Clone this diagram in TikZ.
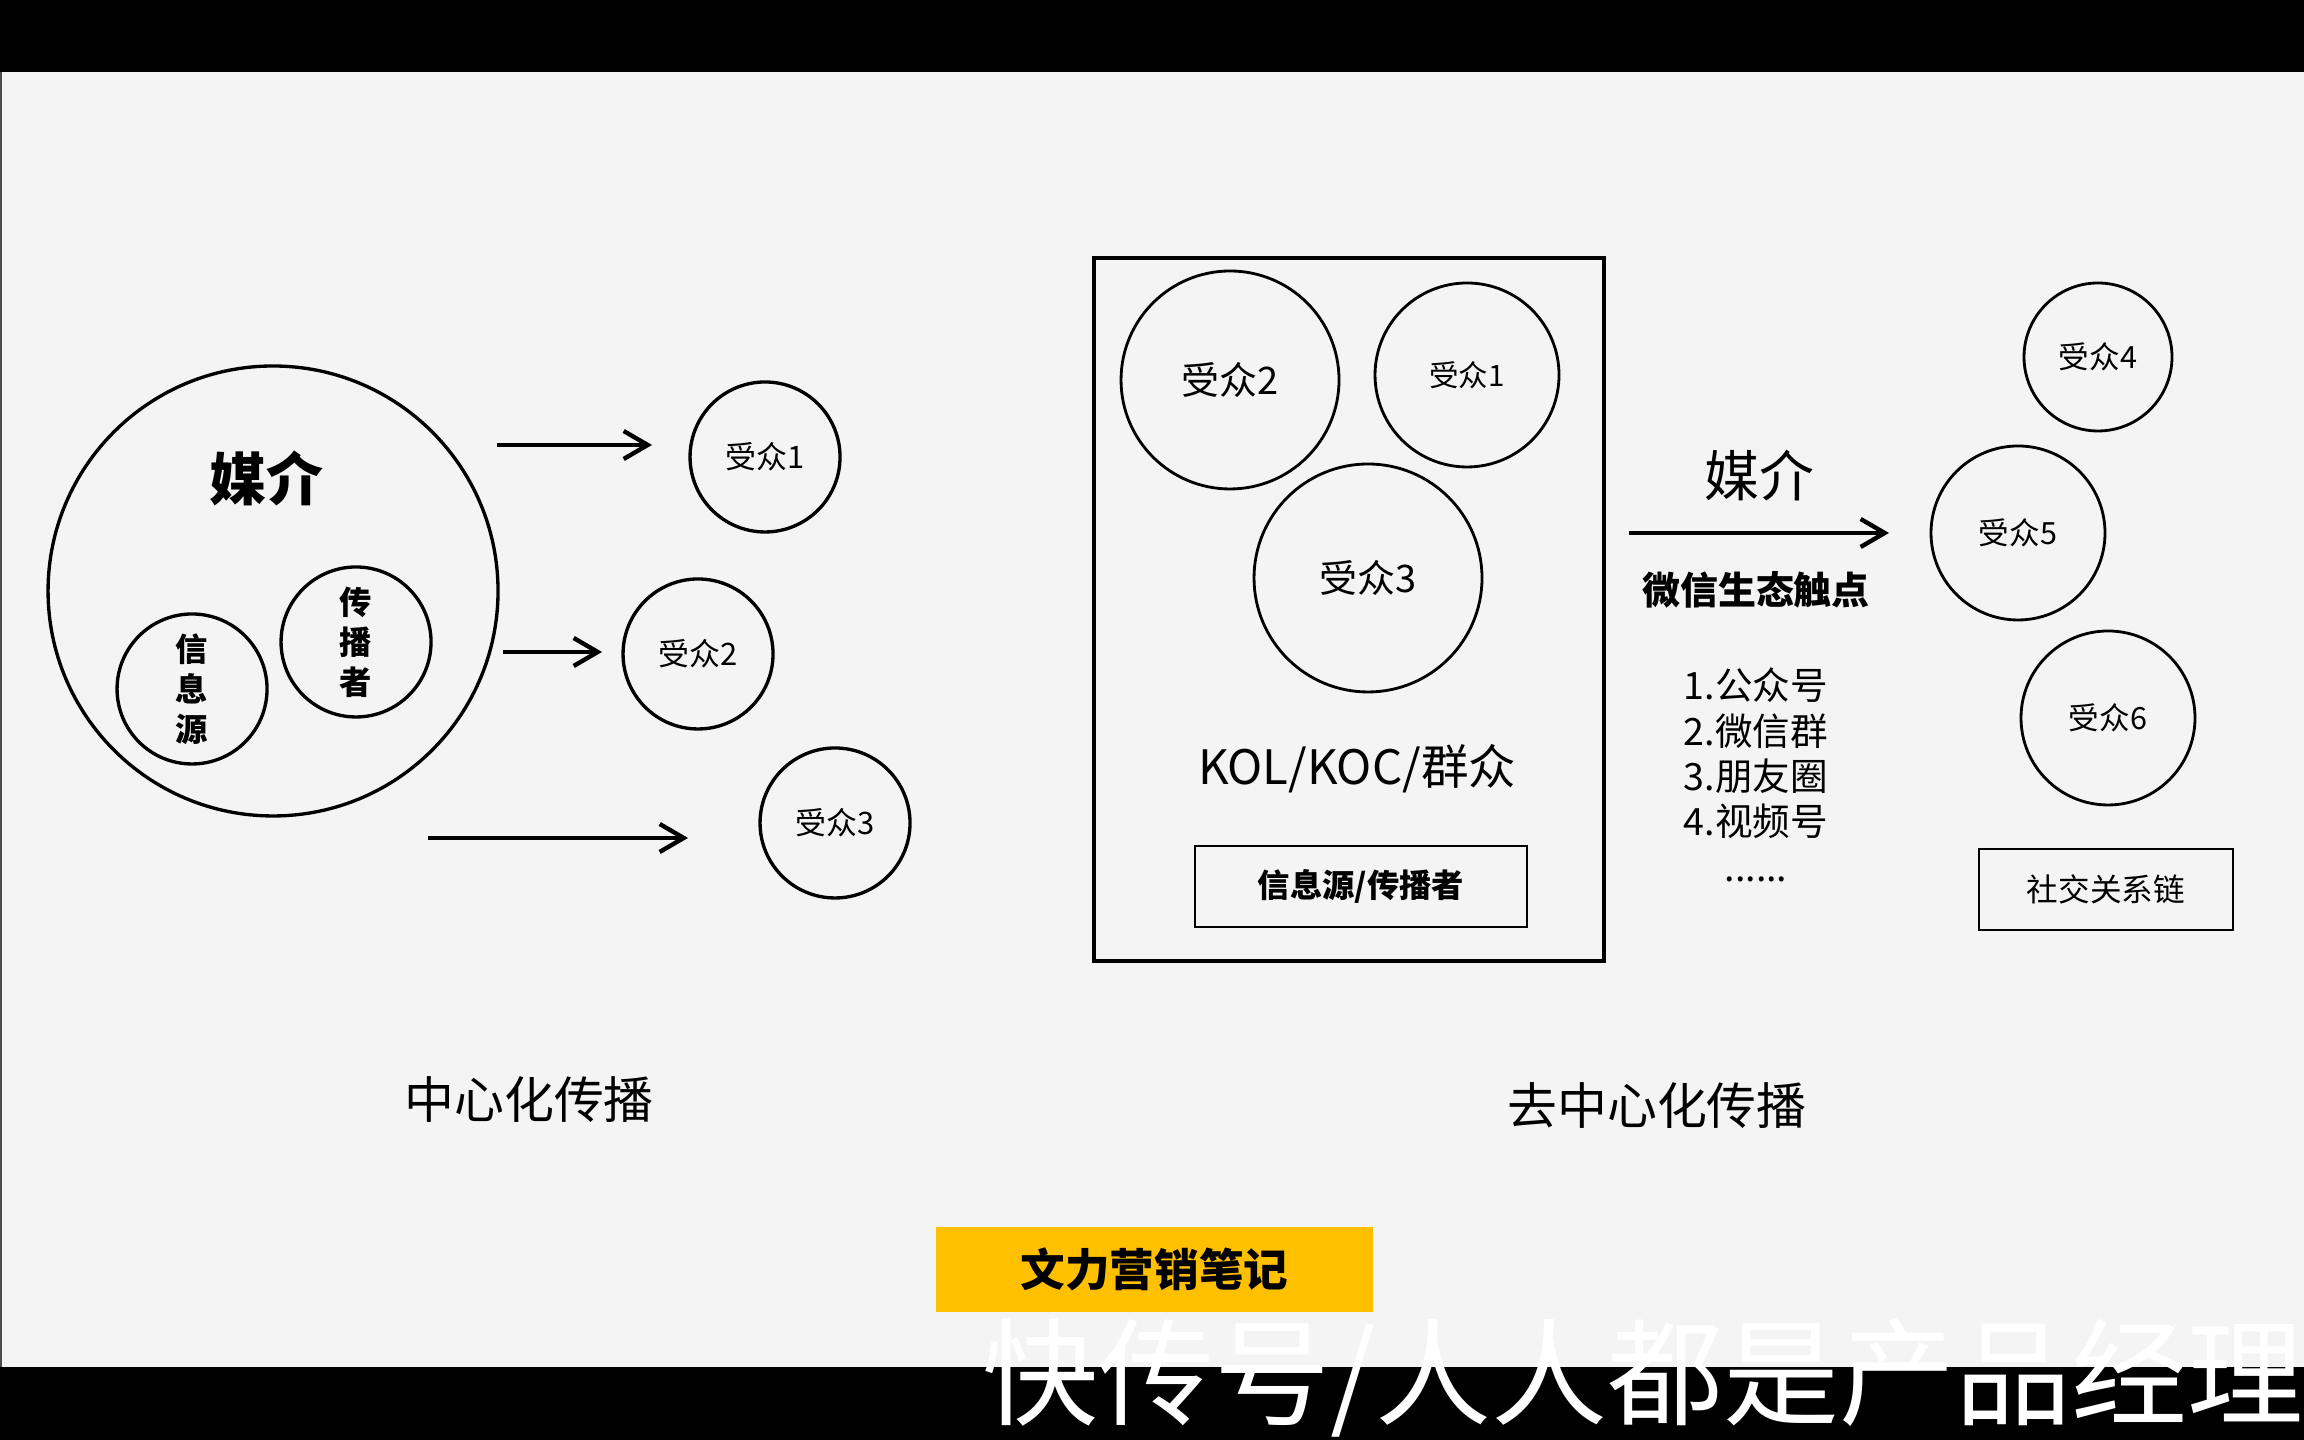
\documentclass[tikz,border=0pt]{standalone}
\usepackage{fontspec}
\setmainfont{Noto Sans CJK SC}
\usetikzlibrary{arrows.meta}
\definecolor{bggray}{HTML}{F4F4F4}
\definecolor{tagyellow}{HTML}{FFC000}
\tikzset{
  aud/.style={circle, draw, line width=0.95pt, inner sep=0pt, minimum size=1.5cm,
    font=\fontsize{8.8}{10}\selectfont},
  raud/.style={circle, draw, line width=0.8pt, inner sep=0pt},
  role/.style={aud, align=center, font=\bfseries\fontsize{9.2}{11.4}\selectfont},
  tagbox/.style={draw, line width=0.8pt, minimum height=0.81cm, inner sep=0pt},
  arr/.style={line width=1.25pt, -{Straight Barb[length=2.4mm,width=2.8mm]}}
}
\begin{document}
\begin{tikzpicture}
  \fill[bggray] (0,0) rectangle (23.04,14.4);
  \fill[black] (0,13.68) rectangle (23.04,14.4);
  \fill[black] (0,0) rectangle (23.04,0.73);
  \draw[black!70, line width=0.6pt] (0.01,0.73) -- (0.01,13.68);
  \useasboundingbox (0,0) rectangle (23.04,14.4);
  % centralised
  \draw
    (2.73,8.49) node[circle, draw, line width=0.95pt, minimum size=4.5cm] (media){}
    (2.66,9.62) node[font=\bfseries\fontsize{16.2}{18}\selectfont] (mediat){媒介}
    (1.92,7.51) node[role] (src){信\\息\\源}
    (3.56,7.98) node[role] (spr){传\\播\\者}
    (7.65,9.83) node[aud] (a1){受众1}
    (6.98,7.86) node[aud] (a2){受众2}
    (8.35,6.17) node[aud] (a3){受众3}
    (5.29,3.40) node[font=\fontsize{14.2}{16}\selectfont] (ctitle){中心化传播};
  \coordinate (p1) at (4.97,9.95);
  \coordinate (q1) at (6.52,9.95);
  \coordinate (p2) at (5.03,7.88);
  \coordinate (q2) at (6.02,7.88);
  \coordinate (p3) at (4.28,6.02);
  \coordinate (q3) at (6.88,6.02);
  \begin{scope}[arr]
    \draw (p1) to (q1);
    \draw (p2) to (q2);
    \draw (p3) to (q3);
  \end{scope}
  % decentralised
  \draw
    (13.49,8.305) node[draw, line width=1.2pt, minimum width=5.10cm, minimum height=7.03cm] (group){}
    (12.30,10.60) node[raud, minimum size=2.18cm, font=\fontsize{10.8}{12}\selectfont] (b2){受众2}
    (14.67,10.65) node[raud, minimum size=1.84cm, font=\fontsize{8.4}{10}\selectfont] (b1){受众1}
    (13.68,8.62) node[raud, minimum size=2.28cm, font=\fontsize{10.8}{12}\selectfont] (b3){受众3}
    (13.57,6.71) node[font=\fontsize{13.5}{15}\selectfont] (kol){KOL/KOC/群众}
    (13.61,5.535) node[tagbox, minimum width=3.32cm, font=\bfseries\fontsize{9.2}{11}\selectfont] (srcbox){信息源/传播者}
    (17.59,9.64) node[font=\fontsize{15.6}{18}\selectfont] (mediar){媒介}
    (17.56,8.50) node[font=\bfseries\fontsize{10.8}{12}\selectfont] (touch){微信生态触点}
    (17.56,6.65) node[align=center, font=\fontsize{10.7}{12.9}\selectfont] (list){1.公众号\\2.微信群\\3.朋友圈\\4.视频号\\......}
    (20.98,10.83) node[raud, minimum size=1.48cm, font=\fontsize{8.7}{10}\selectfont] (b4){受众4}
    (20.18,9.07) node[raud, minimum size=1.74cm, font=\fontsize{8.7}{10}\selectfont] (b5){受众5}
    (21.08,7.22) node[raud, minimum size=1.74cm, font=\fontsize{8.7}{10}\selectfont] (b6){受众6}
    (21.06,5.505) node[tagbox, minimum width=2.54cm, font=\fontsize{9}{11}\selectfont] (social){社交关系链}
    (16.57,3.34) node[font=\fontsize{14.2}{16}\selectfont] (dtitle){去中心化传播};
  \coordinate (p4) at (16.29,9.07);
  \coordinate (q4) at (18.89,9.07);
  \begin{scope}[arr]
    \draw (p4) to (q4);
  \end{scope}
  % tag and watermark
  \node[fill=tagyellow, minimum width=4.37cm, minimum height=0.85cm, inner sep=0pt,
    font=\bfseries\fontsize{12.7}{14}\selectfont] (tag) at (11.545,1.705) {文力营销笔记};
  \node[white, inner sep=0pt, font=\fontsize{33}{38}\selectfont] (mark) at (16.43,0.62) {快传号/人人都是产品经理};
\end{tikzpicture}
\end{document}
